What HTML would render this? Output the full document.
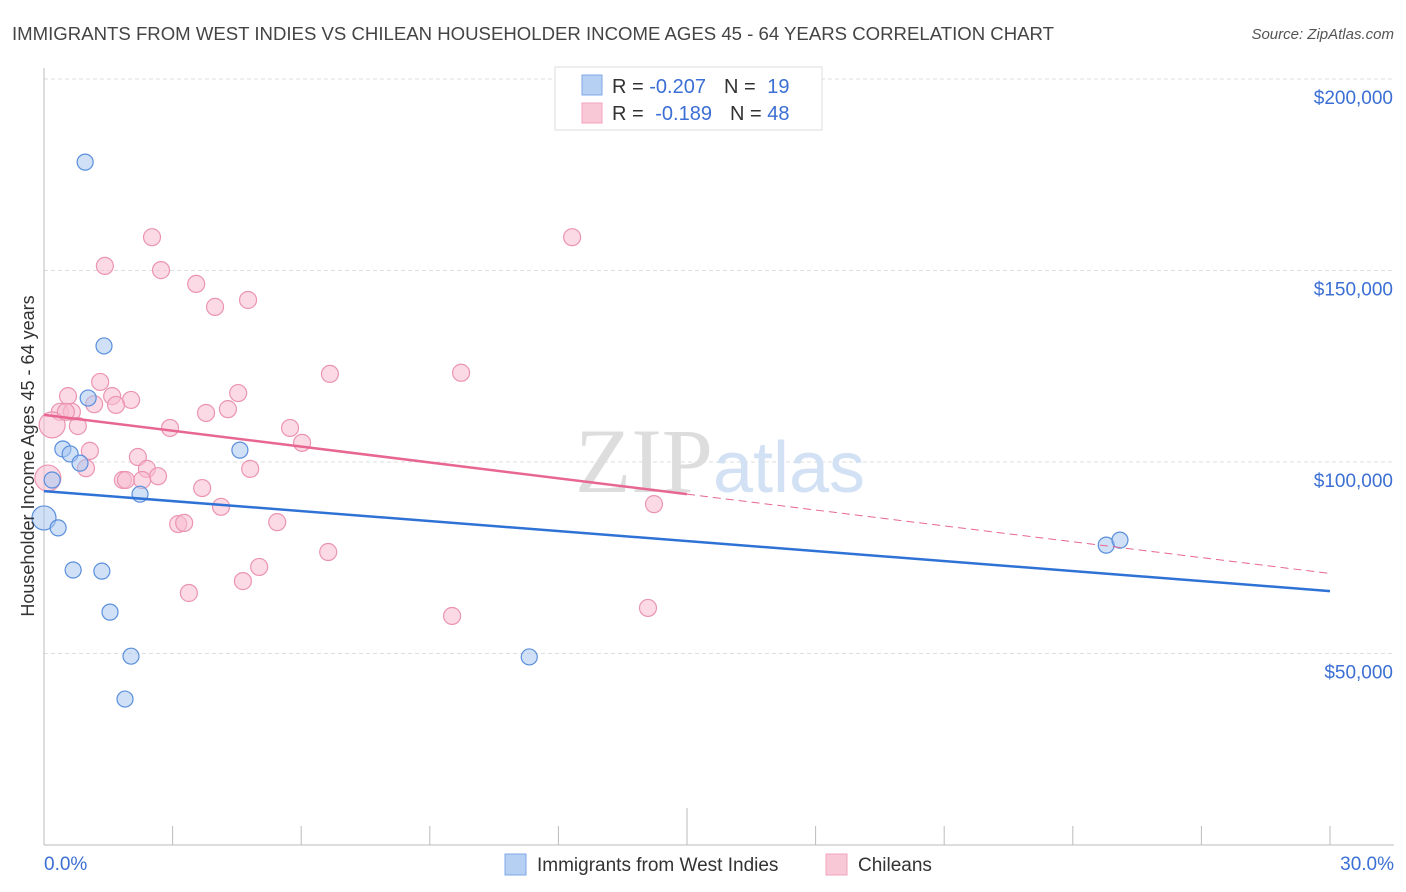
<!DOCTYPE html>
<html><head><meta charset="utf-8"><style>
body{margin:0;background:#fff;font-family:"Liberation Sans",sans-serif}
svg{display:block}
</style></head><body>
<svg width="1406" height="892" viewBox="0 0 1406 892">
<text x="12" y="40" font-size="18" fill="#444" textLength="1042" lengthAdjust="spacingAndGlyphs">IMMIGRANTS FROM WEST INDIES VS CHILEAN HOUSEHOLDER INCOME AGES 45 - 64 YEARS CORRELATION CHART</text>
<text x="1394" y="39" font-size="15" fill="#555" font-style="italic" text-anchor="end">Source: ZipAtlas.com</text>
<g id="grid"></g>
<text x="720" y="492" font-size="92" fill="#ddd" text-anchor="middle" font-family="Liberation Serif">ZIP<tspan fill="#d3e1f5" font-family="Liberation Sans" font-size="72">atlas</tspan></text>
<g id="axes"></g>
<g id="marks"></g>
<text transform="translate(34,456) rotate(-90)" font-size="18" fill="#333" text-anchor="middle">Householder Income Ages 45 - 64 years</text>
<text x="44" y="870" font-size="19" fill="#3b6fd4">0.0%</text>
<text x="1394" y="870" font-size="19" fill="#3b6fd4" text-anchor="end">30.0%</text>
<g>
<rect x="555" y="67" width="267" height="63" fill="#fff" stroke="#ddd"/>
<rect x="582" y="75" width="20" height="20" fill="#b6d0f3" stroke="#7ea8e4"/>
<rect x="582" y="103" width="20" height="20" fill="#f9c8d6" stroke="#efa3bb"/>
<text x="612" y="93" font-size="20" fill="#333">R = <tspan fill="#3b6fd4">-0.207</tspan><tspan dx="18">N = </tspan><tspan fill="#3b6fd4" dx="6">19</tspan></text>
<text x="612" y="120" font-size="20" fill="#333">R = <tspan fill="#3b6fd4" dx="6">-0.189</tspan><tspan dx="18">N = </tspan><tspan fill="#3b6fd4">48</tspan></text>
</g>
<g>
<rect x="505" y="854" width="21" height="21" fill="#b6d0f3" stroke="#7ea8e4"/>
<text x="537" y="871" font-size="19" fill="#333">Immigrants from West Indies</text>
<rect x="826" y="854" width="21" height="21" fill="#f9c8d6" stroke="#efa3bb"/>
<text x="858" y="871" font-size="19" fill="#333">Chileans</text>
</g>
</svg>
<script>
const yTicks=[50000,100000,150000,200000];
const yTickLabels=["$50,000","$100,000","$150,000","$200,000"];
const blueX=[0.96,1.40,1.03,0.44,0.61,0.84,0.19,0.0,0.33,2.24,4.57,0.68,1.35,1.54,2.03,1.89,11.32,24.78,25.10];
const blueY=[178.3,130.3,116.7,103.4,102.1,99.7,95.3,85.4,82.8,91.6,103.1,71.8,71.5,60.8,49.3,38.1,49.1,78.3,79.6];
const blueR=[8,8,8,8,8,8,8,12,8,8,8,8,8,8,8,8,8,8,8];
const pinkX=[2.52,12.32,1.42,2.73,3.55,3.99,4.76,1.31,0.56,1.59,2.03,1.17,1.68,0.37,0.65,0.79,0.19,3.78,4.29,4.53,6.67,9.73,2.94,5.74,6.02,1.07,2.19,0.98,2.40,1.84,2.66,2.29,4.81,3.69,4.13,14.23,0.09,3.13,3.27,5.44,6.63,5.02,4.64,3.38,9.52,14.09,0.51,1.91];
const pinkY=[158.7,158.7,151.2,150.1,146.5,140.5,142.3,120.9,117.2,117.2,116.2,115.1,114.9,113.1,113.1,109.4,109.7,112.8,113.8,118.0,123.0,123.3,108.9,108.9,105.0,102.9,101.3,98.4,98.2,95.3,96.3,95.3,98.2,93.2,88.3,89.0,95.8,83.8,84.1,84.3,76.5,72.6,68.9,65.8,59.8,61.9,113.1,95.3];
const bigPink=[16,36];
const blueTrend=[0,92.4,30,66.3];
const pinkTrend=[0,112.3,15,91.6,30,70.9];
const NS="http://www.w3.org/2000/svg";
const xs=v=>44+v/30*1286;
const ys=v=>845-v/100000*383;
const yk=v=>ys(v*1000);
function mk(t,a,p){const e=document.createElementNS(NS,t);for(const k in a)e.setAttribute(k,a[k]);p.appendChild(e);return e;}
const grid=document.getElementById('grid'),axes=document.getElementById('axes'),marks=document.getElementById('marks');
yTicks.forEach((t,i)=>{
 const l=mk('line',{x1:44,x2:1394,y1:ys(t),y2:ys(t),stroke:'#ddd','stroke-dasharray':'4,3'},grid);
 
 
 const tx=mk('text',{x:1393,y:ys(t)+25,'font-size':19,fill:'#3b6fd4','text-anchor':'end'},grid);
 tx.textContent=yTickLabels[i];
 
 
});
let ax=mk('line',{x1:44,x2:44,y1:68,y2:845,stroke:'#bbb'},axes);


ax=mk('line',{x1:44,x2:1394,y1:845,y2:845,stroke:'#bbb'},axes);


for(let i=1;i<=10;i++){
 const t=mk('line',{x1:xs(i*3),x2:xs(i*3),y1:i==5?808:826,y2:845,stroke:'#bbb'},axes);
 
 
}
function dots(X,Y,fill,stroke,name,big){
 X.forEach((x,i)=>{
  const r=big(i);
  const c=mk('circle',{cx:xs(x),cy:yk(Y[i]),r:r,fill:fill,'fill-opacity':0.55,stroke:stroke,'stroke-width':1.2},marks);
  
  
 });
}
dots(pinkX,pinkY,'#f7bcd0','#eb94b1','chileans-point',i=>bigPink.includes(i)?13:8.5);
dots(blueX,blueY,'#a8c6f0','#5b8fdc','west-indies-point',i=>blueR[i]);
let tl=mk('line',{x1:xs(blueTrend[0]),y1:yk(blueTrend[1]),x2:xs(blueTrend[2]),y2:yk(blueTrend[3]),stroke:'#2f72d6','stroke-width':2.5},marks);


tl=mk('line',{x1:xs(pinkTrend[0]),y1:yk(pinkTrend[1]),x2:xs(pinkTrend[2]),y2:yk(pinkTrend[3]),stroke:'#e86790','stroke-width':2.5},marks);


tl=mk('line',{x1:xs(pinkTrend[2]),y1:yk(pinkTrend[3]),x2:xs(pinkTrend[4]),y2:yk(pinkTrend[5]),stroke:'#e86790','stroke-width':1,'stroke-dasharray':'8,5'},marks);


</script>
</body></html>
